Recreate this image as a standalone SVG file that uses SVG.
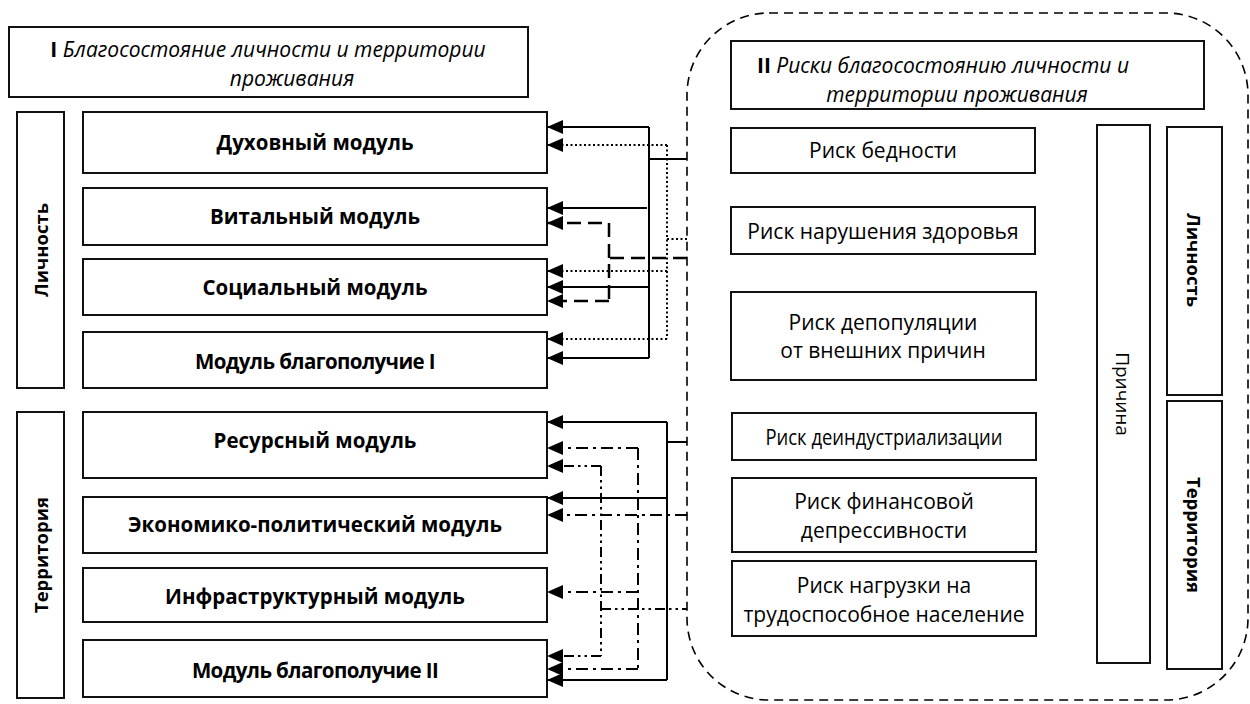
<svg xmlns="http://www.w3.org/2000/svg" width="1250" height="704" viewBox="0 0 1250 704">
<style>
.box{fill:#fff;stroke:#111;stroke-width:2}
.t{font-family:"Open Sans","Liberation Sans",sans-serif;fill:#000;text-anchor:middle;dominant-baseline:central}
.b{font-weight:bold;font-size:20.5px}
.v{font-weight:bold;font-size:18.5px}
.r{font-size:21px}
.p{font-size:19px}
.i{font-style:italic;font-size:21px}
.c{fill:none;stroke:#000}
.solid{stroke-width:2}
.dot{stroke-width:2;stroke-dasharray:2 2.5}
.dash{stroke-width:2.5;stroke-dasharray:14 7}
.dd{stroke-width:2;stroke-dasharray:12 5 3 5}
.ddd{stroke-width:2;stroke-dasharray:10 4 2.5 4 2.5 4}
.arr{marker-end:url(#ah)}
</style>
<defs>
<marker id="ah" markerUnits="userSpaceOnUse" markerWidth="17" markerHeight="15" refX="16" refY="7" orient="auto">
<path d="M0,0 L16,7 L0,14 z" fill="#000"/>
</marker>
</defs>
<rect width="1250" height="704" fill="#fff"/>

<g id="boundary">
<rect x="687" y="13" width="561" height="687" rx="82" ry="82" fill="none" stroke="#000" stroke-width="1.6" stroke-dasharray="9 6"/>
</g>

<g id="title1"><rect class="box" x="9" y="27" width="519" height="70"/>
<text class="t i" x="268" y="49"><tspan font-weight="bold" font-style="normal">I</tspan> Благосостояние личности и территории</text>
<text class="t i" x="292" y="78">проживания</text></g>

<g id="lichnost-left"><rect class="box" x="17" y="112" width="47" height="276"/>
<text class="t v" transform="translate(40,250) rotate(-90)">Личность</text></g>
<g id="territoriya-left"><rect class="box" x="17" y="412" width="47" height="286"/>
<text class="t v" transform="translate(40,555) rotate(-90)">Территория</text></g>

<g id="m1"><rect class="box" x="83" y="112" width="464" height="61"/><text class="t b" x="315" y="142">Духовный модуль</text></g>
<g id="m2"><rect class="box" x="83" y="188" width="464" height="57"/><text class="t b" x="315" y="216">Витальный модуль</text></g>
<g id="m3"><rect class="box" x="83" y="259" width="464" height="56"/><text class="t b" x="315" y="287">Социальный модуль</text></g>
<g id="m4"><rect class="box" x="83" y="332" width="464" height="56"/><text class="t b" x="315" y="361" letter-spacing="-0.6">Модуль благополучие I</text></g>
<g id="m5"><rect class="box" x="83" y="412" width="464" height="66"/><text class="t b" x="315" y="440">Ресурсный модуль</text></g>
<g id="m6"><rect class="box" x="83" y="497" width="464" height="56"/><text class="t b" x="315" y="524">Экономико-политический модуль</text></g>
<g id="m7"><rect class="box" x="83" y="568" width="464" height="54"/><text class="t b" x="315" y="596">Инфраструктурный модуль</text></g>
<g id="m8"><rect class="box" x="83" y="640" width="464" height="57"/><text class="t b" x="315" y="670" letter-spacing="-0.6">Модуль благополучие II</text></g>

<g id="title2"><rect class="box" x="731" y="41" width="473" height="68"/>
<text class="t i" x="943" y="65"><tspan font-weight="bold" font-style="normal">II</tspan> Риски благосостоянию личности и</text>
<text class="t i" x="957" y="94">территории проживания</text></g>

<g id="r1"><rect class="box" x="731" y="128" width="304" height="45"/><text class="t r" x="883" y="150">Риск бедности</text></g>
<g id="r2"><rect class="box" x="731" y="207" width="304" height="47"/><text class="t r" x="883" y="231">Риск нарушения здоровья</text></g>
<g id="r3"><rect class="box" x="731" y="292" width="305" height="88"/><text class="t r" x="883" y="322">Риск депопуляции</text><text class="t r" x="883" y="350">от внешних причин</text></g>
<g id="r4"><rect class="box" x="732" y="413" width="304" height="47"/><text class="t r" x="884" y="437" textLength="237" lengthAdjust="spacingAndGlyphs">Риск деиндустриализации</text></g>
<g id="r5"><rect class="box" x="732" y="478" width="304" height="74"/><text class="t r" x="884" y="501">Риск финансовой</text><text class="t r" x="884" y="530">депрессивности</text></g>
<g id="r6"><rect class="box" x="732" y="561" width="304" height="75"/><text class="t r" x="884" y="585">Риск нагрузки на</text><text class="t r" x="884" y="614">трудоспособное население</text></g>

<g id="prichina"><rect class="box" x="1097" y="125" width="53" height="538"/>
<text class="t p" transform="translate(1123,394) rotate(90)">Причина</text></g>
<g id="lichnost-right"><rect class="box" x="1167" y="127" width="55" height="268"/>
<text class="t v" transform="translate(1194,260) rotate(90)">Личность</text></g>
<g id="territoriya-right"><rect class="box" x="1167" y="401" width="55" height="268"/>
<text class="t v" transform="translate(1194,535) rotate(90)">Территория</text></g>

<g id="connectors">
<path class="c solid" d="M649,127 V358 M649,159 H687"/>
<path class="c solid arr" d="M649,127 H547"/>
<path class="c solid arr" d="M647,208 H547"/>
<path class="c solid arr" d="M649,287 H547"/>
<path class="c solid arr" d="M649,358 H547"/>
<path class="c dot" d="M667,145 V339 M667,239 H687"/>
<path class="c dot arr" d="M667,145 H547"/>
<path class="c dot arr" d="M667,271 H547"/>
<path class="c dot arr" d="M667,339 H547"/>
<path class="c dash" d="M687,258 H609 V301"/>
<path class="c dash arr" d="M609,258 V223 H547"/>
<path class="c dash arr" d="M609,301 H547"/>
<path class="c solid" d="M667,422 V680 M667,442 H687"/>
<path class="c solid arr" d="M667,422 H547"/>
<path class="c solid arr" d="M667,498 H547"/>
<path class="c solid arr" d="M667,680 H547"/>
<path class="c dd" d="M638,448 V669"/>
<path class="c dd arr" d="M638,448 H547"/>
<path class="c dd arr" d="M687,515 H547"/>
<path class="c dd arr" d="M638,592 H547"/>
<path class="c dd arr" d="M638,669 H547"/>
<path class="c ddd" d="M601,466 V656 M601,609 H687"/>
<path class="c ddd arr" d="M601,466 H547"/>
<path class="c ddd arr" d="M601,656 H547"/>
</g>
</svg>
